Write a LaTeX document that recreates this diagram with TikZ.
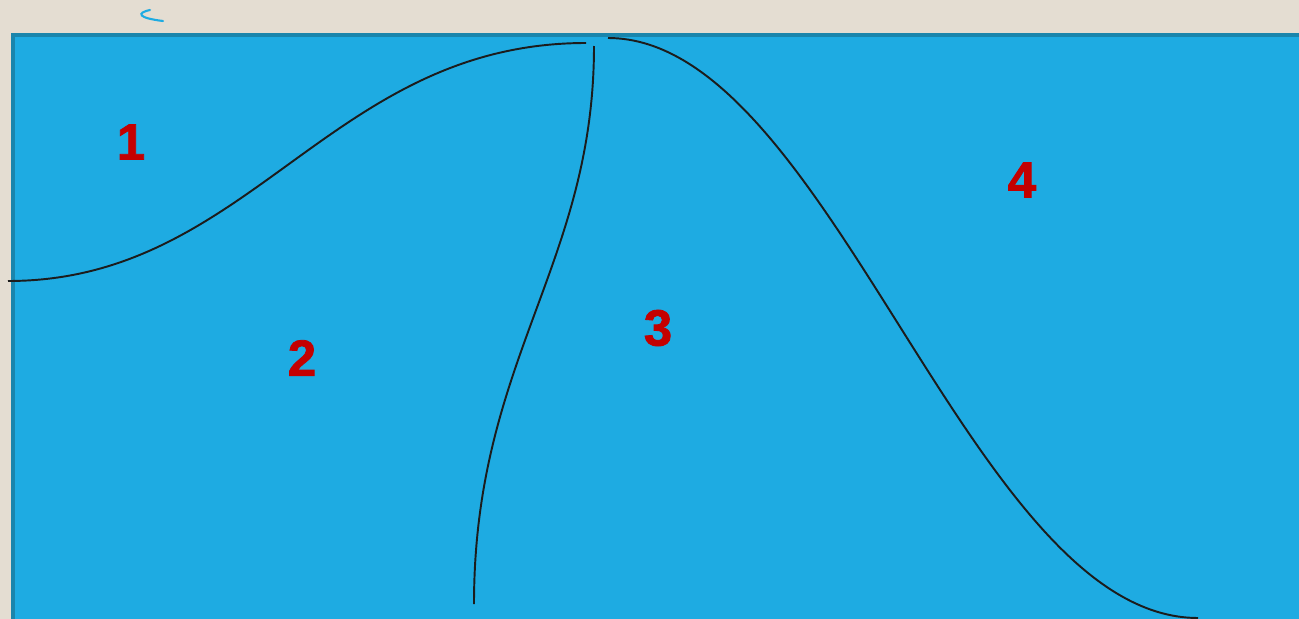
\documentclass[tikz,border=0pt]{standalone}
\usepackage{fontspec}
\setmainfont{Liberation Sans}
\newfontfamily\grosso[FakeBold=1.6]{Liberation Sans Bold}
\definecolor{papel}{HTML}{E4DDD2}
\definecolor{agua}{HTML}{1EABE2}
\definecolor{borda}{HTML}{1A85AC}
\definecolor{vermelho}{HTML}{C40000}
\definecolor{tinta}{HTML}{1C1C1C}

\begin{document}
\begin{tikzpicture}[x=0.02cm,y=-0.02cm]
\useasboundingbox (0,0) rectangle (1299,619);
\fill[papel] (0,0) rectangle (1299,619);
\draw[fill=agua,draw=borda,line width=2.2pt] (13,35) rectangle (1310,630);
\draw[agua,line width=1.2pt,line cap=round] (150,10) .. controls (136,13) and (138,18) .. (163,21);
% divisas
\draw[tinta,line width=1.1pt] (8,281) .. controls (250,281) and (330,43) .. (586,43);
\draw[tinta,line width=1.1pt] (594,46) .. controls (594,265) and (474,360) .. (474,604);
\draw[tinta,line width=1.1pt] (608,38) .. controls (830,38) and (970,618) .. (1198,618);
% regioes
\node[text=vermelho,font=\grosso\fontsize{29}{29}\selectfont] (R1) at (131,142) {1};
\node[text=vermelho,font=\grosso\fontsize{29}{29}\selectfont] (R2) at (302,358) {2};
\node[text=vermelho,font=\grosso\fontsize{29}{29}\selectfont] (R3) at (658,328) {3};
\node[text=vermelho,font=\grosso\fontsize{29}{29}\selectfont] (R4) at (1022,180) {4};
\end{tikzpicture}
\end{document}
